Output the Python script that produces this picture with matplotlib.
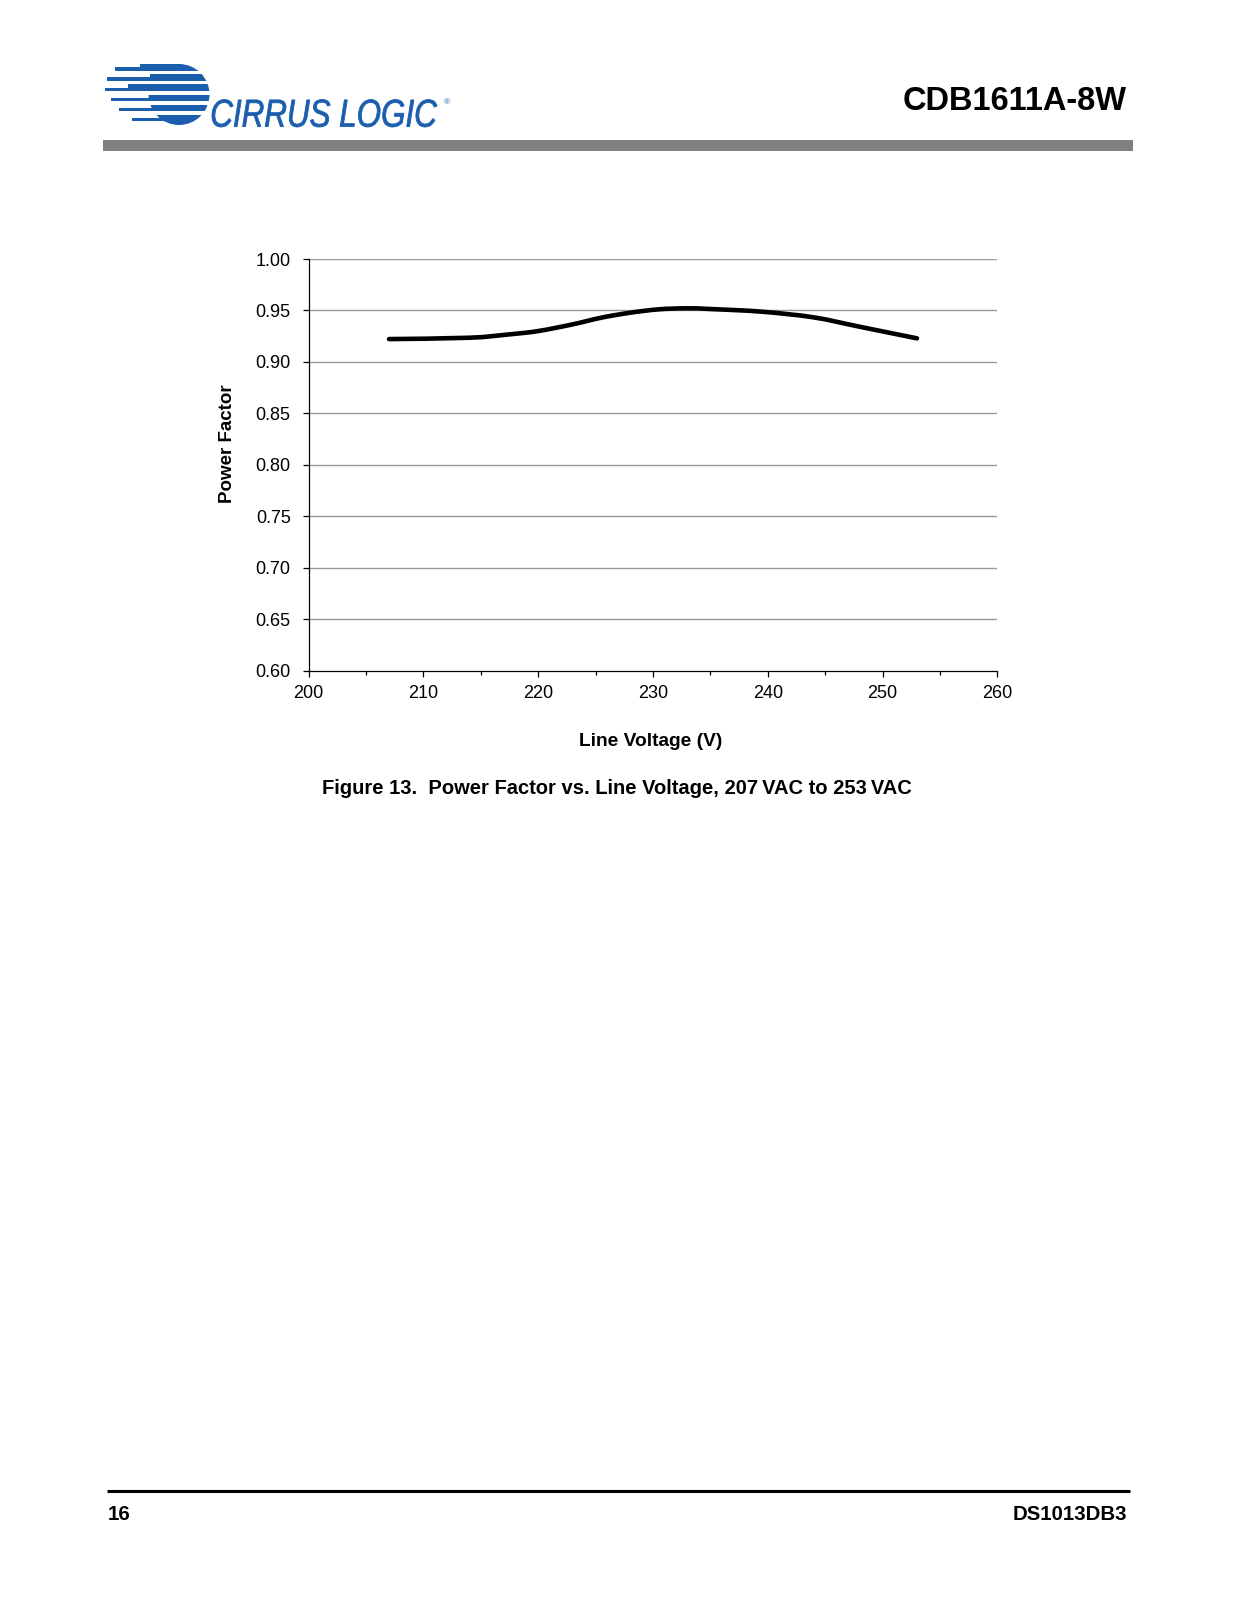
import numpy as np
import matplotlib
matplotlib.use("Agg")
import matplotlib.pyplot as plt
from matplotlib.patches import Circle, Rectangle, PathPatch, Polygon
from matplotlib.path import Path
from matplotlib.textpath import TextPath
from matplotlib.font_manager import FontProperties
from matplotlib.transforms import Affine2D
from matplotlib.ticker import MultipleLocator

# ---------------- data ----------------
line_voltage = [207, 214, 217.5, 220, 223, 225.5, 228, 230.5, 233, 235, 239.5, 244, 248, 253]
power_factor = [0.9222, 0.9235, 0.9268, 0.930, 0.9365, 0.9430, 0.9478, 0.9511, 0.9521, 0.9514,
                0.9488, 0.9433, 0.9342, 0.9229]
x_ticks = [200, 210, 220, 230, 240, 250, 260]
y_ticks = [0.60, 0.65, 0.70, 0.75, 0.80, 0.85, 0.90, 0.95, 1.00]
x_label = "Line Voltage (V)"
y_label = "Power Factor"
caption = "Figure 13.  Power Factor vs. Line Voltage, 207\u2009VAC to 253\u2009VAC"
header = "CDB1611A-8W"
page_no = "16"
doc_id = "DS1013DB3"

W, H = 1237, 1600
FONT = ["Liberation Sans", "DejaVu Sans"]
plt.rcParams["font.family"] = FONT

fig = plt.figure(figsize=(W / 100, H / 100), dpi=100)
fig.patch.set_facecolor("white")

# decoration layer in pixel coordinates
deco = fig.add_axes([0, 0, 1, 1])
deco.set_xlim(0, W)
deco.set_ylim(H, 0)
deco.axis("off")

BLUE = "#1b5ead"
# ---- logo: striped disc ----
cx, cy, r = 179, 94.5, 30.5
disc = Circle((cx, cy), r, transform=deco.transData)
n_bands = 6
top = cy - r
pitch = 2 * r / n_bands
gap = 3.6
tail_left = [115, 107, 105, 111, 119, 132]
step_left = [140, 150, 128, 152, 158, 165]
for i in range(n_bands):
    y0 = top + i * pitch
    y1 = y0 + pitch - gap if i < n_bands - 1 else y0 + pitch
    # body of the band inside the disc
    rect = Rectangle((cx - r - 2, y0), 2 * r + 4, y1 - y0, color=BLUE, lw=0)
    deco.add_patch(rect)
    rect.set_clip_path(disc)
    # stepped tail to the left
    yl1 = y1 if i < n_bands - 1 else y0 + pitch - gap
    th = y1 - y0 if i < n_bands - 1 else yl1 - y0
    deco.add_patch(Rectangle((step_left[i], yl1 - th), cx - step_left[i], th, color=BLUE, lw=0))
    tth = 0.5 * th
    deco.add_patch(Rectangle((tail_left[i], yl1 - tth), step_left[i] - tail_left[i] + 1, tth,
                             color=BLUE, lw=0))

# ---- logo text ----
tp = TextPath((0, 0), "CIRRUS LOGIC", size=1,
              prop=FontProperties(family="Liberation Sans", style="italic"))
bb = tp.get_extents()
sx = (437 - 212) / bb.width
sy = 27.5 / bb.height
tr = Affine2D().translate(-bb.x0, -bb.y0).scale(sx, -sy).translate(212, 127.0)
deco.add_patch(PathPatch(tr.transform_path(tp), facecolor=BLUE, edgecolor=BLUE, lw=0.6))
deco.text(446.5, 103, "\u00ae", color=BLUE, fontsize=6, ha="center", va="center")

# header text and bar
deco.text(1127, 101, header, ha="right", va="center", fontsize=23.5, fontweight="bold")
deco.add_patch(Rectangle((103, 139.5), 1133 - 103, 11.3, color="#808080", lw=0))

# footer
deco.plot([107, 1130], [1491, 1491], color="black", lw=2.2, solid_capstyle="butt")
deco.text(108, 1514, page_no, ha="left", va="center", fontsize=14.7, fontweight="bold")
deco.text(1127, 1514, doc_id, ha="right", va="center", fontsize=14.7, fontweight="bold")

# axis titles and caption
deco.text(651, 741, x_label, ha="center", va="center", fontsize=13.8, fontweight="bold")
deco.text(228, 444, y_label, ha="center", va="center", rotation=90, fontsize=13.5, fontweight="bold")
deco.text(617, 788, caption, ha="center", va="center", fontsize=14.5, fontweight="bold")

# ---------------- chart ----------------
x0, x1 = 308.7, 997.3
yt, yb = 259.0, 670.7
ax = fig.add_axes([x0 / W, 1 - yb / H, (x1 - x0) / W, (yb - yt) / H])
ax.set_facecolor("none")
ax.set_xlim(200, 260)
ax.set_ylim(0.60, 1.00)
ax.set_xticks(x_ticks)
ax.set_yticks(y_ticks)
ax.xaxis.set_minor_locator(MultipleLocator(5))
ax.set_xticklabels([str(v) for v in x_ticks])
ax.set_yticklabels([f"{v:.2f}" for v in y_ticks])
for v in y_ticks[1:]:
    ax.axhline(v, color="#9a9a9a", lw=1.0, zorder=1)

# smoothed line (Catmull-Rom style Bezier through the data points, like a spreadsheet "smooth line")
pts = np.column_stack([line_voltage, power_factor])
verts = [tuple(pts[0])]
codes = [Path.MOVETO]
n = len(pts)
for i in range(n - 1):
    p0 = pts[i - 1] if i > 0 else pts[i]
    p1 = pts[i]
    p2 = pts[i + 1]
    p3 = pts[i + 2] if i + 2 < n else pts[i + 1]
    c1 = p1 + (p2 - p0) / 6.0
    c2 = p2 - (p3 - p1) / 6.0
    verts += [tuple(c1), tuple(c2), tuple(p2)]
    codes += [Path.CURVE4] * 3
ax.add_patch(PathPatch(Path(verts, codes), facecolor="none", edgecolor="black", lw=3.3,
                       capstyle="round", joinstyle="round", zorder=3))

for s in ["top", "right"]:
    ax.spines[s].set_visible(False)
for s in ["left", "bottom"]:
    ax.spines[s].set_color("black")
    ax.spines[s].set_linewidth(0.9)
ax.tick_params(axis="x", which="major", direction="out", length=4, width=0.9, pad=6, labelsize=13)
ax.tick_params(axis="x", which="minor", direction="out", length=3, width=0.9)
ax.tick_params(axis="y", which="major", direction="out", length=4, width=0.9, pad=9, labelsize=13)

fig.savefig("out.png", dpi=100, facecolor="white")
